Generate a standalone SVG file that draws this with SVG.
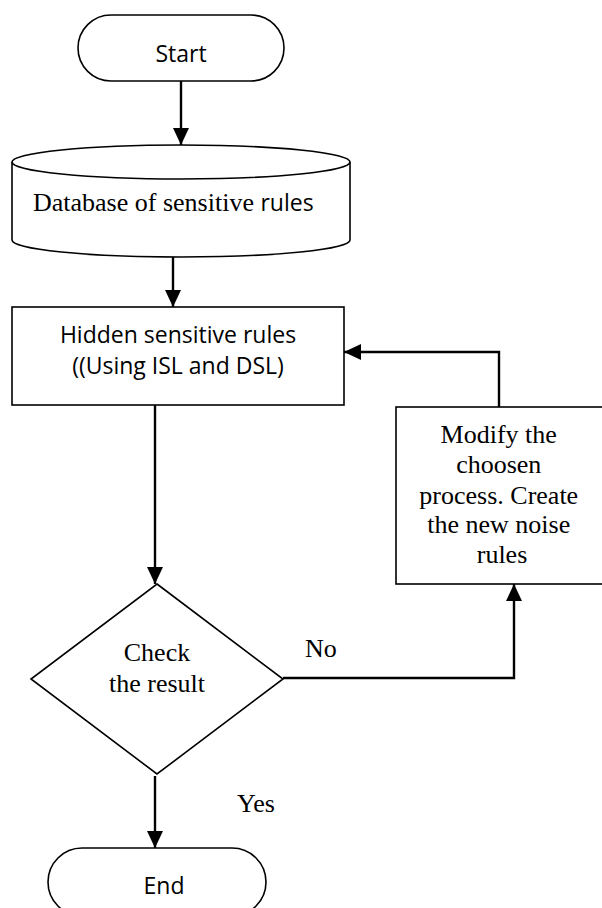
<svg xmlns="http://www.w3.org/2000/svg" width="602" height="908" viewBox="0 0 602 908">
<style>
.shape{fill:#fff;stroke:#000;stroke-width:1.6}
.conn{fill:none;stroke:#000;stroke-width:2.4}
.sans{font-family:"Open Sans","DejaVu Sans",sans-serif;font-size:23px;fill:#000}
.serif{font-family:"Liberation Serif","Times New Roman",serif;font-size:26px;fill:#000}
</style>
<defs>
<marker id="arr" markerUnits="userSpaceOnUse" markerWidth="17" markerHeight="16" refX="17" refY="8" orient="auto">
<path d="M0,0 L17,8 L0,16 Z" fill="#000"/>
</marker>
</defs>
<rect width="602" height="908" fill="#fff"/>
<g id="connectors">
<line class="conn" x1="181" y1="81" x2="181" y2="145" marker-end="url(#arr)"/>
<line class="conn" x1="173" y1="257" x2="173" y2="307" marker-end="url(#arr)"/>
<line class="conn" x1="155" y1="405" x2="155" y2="584" marker-end="url(#arr)"/>
<polyline class="conn" points="283,678 514,678 514,584" marker-end="url(#arr)"/>
<polyline class="conn" points="499,407 499,352 344,352" marker-end="url(#arr)"/>
<line class="conn" x1="155" y1="776" x2="155" y2="848" marker-end="url(#arr)"/>
</g>
<g id="start">
<rect class="shape" x="78" y="15" width="206" height="66" rx="33" ry="33"/>
<text class="sans" x="181" y="62" text-anchor="middle" font-size="26">Start</text>
</g>
<g id="database">
<path class="shape" d="M12,162 A169,17 0 0 1 350,162 L350,240 A169,17 0 0 1 12,240 Z"/>
<path class="shape" fill="none" d="M12,162 A169,17 0 0 0 350,162"/>
<text x="33" y="211"><tspan class="serif">Database of sensitive </tspan><tspan class="sans" font-size="25">rules</tspan></text>
</g>
<g id="hidden">
<rect class="shape" x="12" y="307" width="332" height="98"/>
<text class="sans" x="178" y="343" text-anchor="middle">Hidden sensitive rules</text>
<text class="sans" x="178" y="374" text-anchor="middle">((Using ISL and DSL)</text>
</g>
<g id="modify">
<rect class="shape" x="396" y="407" width="212" height="177"/>
<text class="serif" text-anchor="middle">
<tspan x="502" y="443">Modify the</tspan>
<tspan x="502" y="473">choosen</tspan>
<tspan x="502" y="504">process. Create</tspan>
<tspan x="502" y="533">the new noise</tspan>
<tspan x="502" y="563">rules</tspan>
</text>
</g>
<g id="check">
<polygon class="shape" points="157,584 283,679 157,774 31,679"/>
<text class="serif" x="157" y="661" text-anchor="middle">Check</text>
<text class="serif" x="157" y="692" text-anchor="middle">the result</text>
</g>
<g id="labels">
<text class="serif" x="305" y="657">No</text>
<text class="serif" x="237" y="812">Yes</text>
</g>
<g id="end">
<rect class="shape" x="48" y="848" width="218" height="68" rx="34" ry="34"/>
<text class="sans" x="164" y="894" text-anchor="middle" font-size="25">End</text>
</g>
</svg>
